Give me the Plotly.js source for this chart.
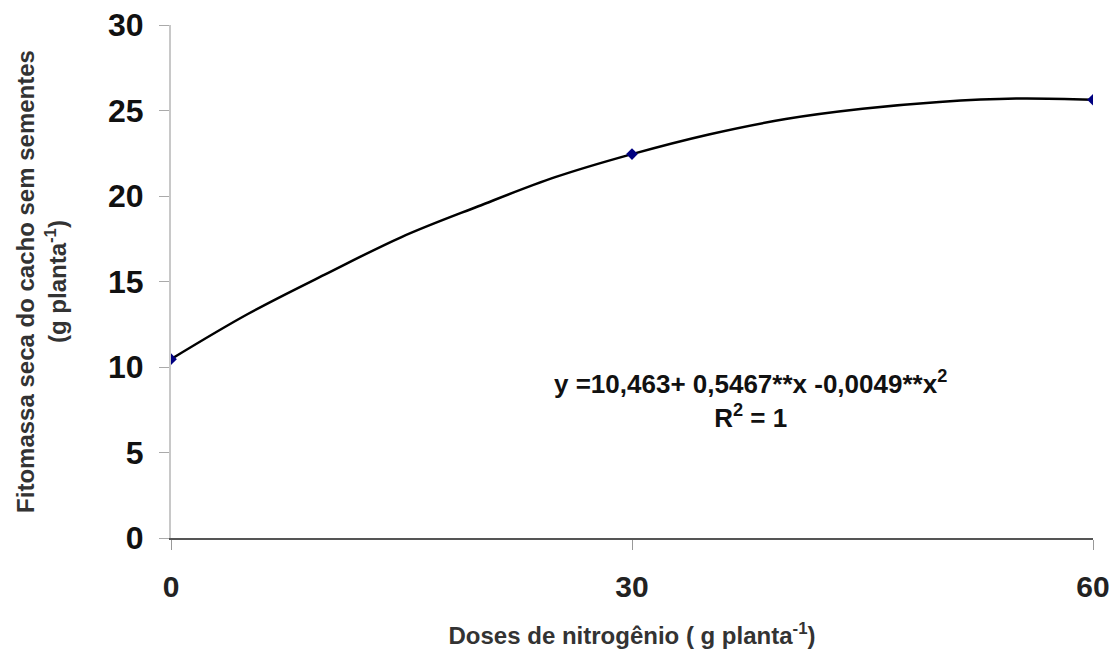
<!DOCTYPE html>
<html>
<head>
<meta charset="utf-8">
<script src="https://cdn.plot.ly/plotly-3.0.1.min.js"></script>
<style>html,body{margin:0;padding:0;background:#fff;}#chart{width:1120px;height:655px;}</style>
</head>
<body>
<div id="chart"></div>
<script>
// Observed points
var doses = [0, 30, 60];
var biomass = [10.46, 22.45, 25.63];

// Fitted curve
var curveX = [0, 5, 10, 15, 20, 25, 30, 35, 40, 45, 50, 55, 60];
var curveY = [10.46, 13.1, 15.4, 17.6, 19.4, 21.1, 22.45, 23.6, 24.5, 25.1, 25.5, 25.7, 25.63];

var xTicks = [0, 30, 60];
var yTicks = [0, 5, 10, 15, 20, 25, 30];

var equationText = "y =10,463+ 0,5467**x -0,0049**x<sup>2</sup><br>R<sup>2</sup> = 1";
var xTitle = "Doses de nitrogênio ( g planta<sup>-1</sup>)";
var yTitle = "Fitomassa seca do cacho sem sementes<br>(g planta<sup>-1</sup>)";

var fontFam = "Liberation Sans, Arial, sans-serif";

var traces = [
  {x: curveX, y: curveY, mode: "lines", type: "scatter",
   line: {color: "#000", width: 2.5, shape: "spline"}, hoverinfo: "skip", showlegend: false},
  {x: doses, y: biomass, mode: "markers", type: "scatter",
   marker: {symbol: "diamond", size: 9, color: "#000080"}, showlegend: false}
];

var layout = {
  width: 1120, height: 655,
  paper_bgcolor: "#fff", plot_bgcolor: "#fff",
  margin: {l: 171, r: 27, t: 25, b: 117},
  showlegend: false,
  xaxis: {
    range: [0, 60], tickvals: xTicks, ticktext: xTicks.map(String),
    showgrid: false, zeroline: false,
    showline: true, linecolor: "#555", linewidth: 2,
    ticks: "outside", ticklen: 10, tickcolor: "#999", tickwidth: 1,
    ticklabelstandoff: 11,
    tickfont: {family: fontFam, size: 30, color: "#222", weight: "bold"},
    title: {text: xTitle, standoff: 25, font: {family: fontFam, size: 24, color: "#333", weight: "bold"}},
    automargin: false
  },
  yaxis: {
    range: [0, 30], tickvals: yTicks, ticktext: yTicks.map(String),
    showgrid: false, zeroline: false,
    showline: true, linecolor: "#c8c8c8", linewidth: 2,
    ticks: "outside", ticklen: 10, tickcolor: "#aaa", tickwidth: 1,
    ticklabelstandoff: 9,
    tickfont: {family: fontFam, size: 32, color: "#111", weight: "bold"},
    title: {text: yTitle, standoff: 35, font: {family: fontFam, size: 24, color: "#333", weight: "bold"}},
    automargin: false
  },
  annotations: [
    {x: 37.7, y: 8.1, xref: "x", yref: "y", text: equationText, showarrow: false,
     align: "center", font: {family: fontFam, size: 26, color: "#111", weight: "bold"}}
  ]
};

Plotly.newPlot("chart", traces, layout, {displayModeBar: false, staticPlot: true});
</script>
</body>
</html>
